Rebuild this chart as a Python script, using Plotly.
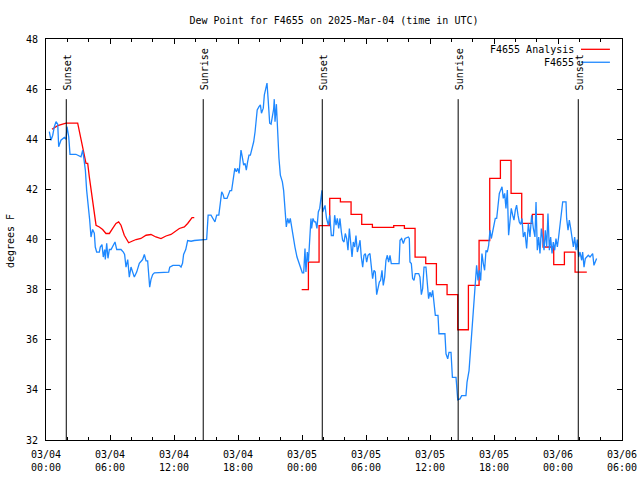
import pandas as pd
import plotly.graph_objects as go

BASE = pd.Timestamp("2025-03-04 00:00")

# Observations (hours after 03/04 00:00 UTC, dew point F)
obs_hours = [0.31, 0.47, 0.63, 0.78, 0.94, 1.1, 1.19, 1.4, 1.72, 1.88, 1.97, 2.13, 2.25, 2.8, 3.28, 3.44, 3.53,
             3.69, 3.81, 3.97, 4.09, 4.22, 4.37, 4.53, 4.62, 4.75, 5.0, 5.09, 5.25, 5.37, 5.5, 5.56, 5.69, 5.81,
             5.94, 6.1, 6.25, 6.47, 6.63, 7.03, 7.25, 7.37, 7.5, 7.66, 7.81, 7.97, 8.28, 8.5, 8.75, 9.06, 9.22,
             9.38, 9.53, 9.63, 9.72, 9.84, 10.0, 10.16, 10.94, 11.5, 11.6, 11.9, 12.5, 12.66, 12.8, 12.9, 13.1,
             13.28, 13.6, 13.9, 15.06, 15.16, 15.2, 15.47, 15.69, 15.84, 16.0, 16.2, 16.34, 16.47, 16.6, 16.7,
             16.97, 17.1, 17.25, 17.4, 17.56, 17.7, 17.84, 17.97, 18.1, 18.19, 18.28, 18.4, 18.53, 18.66, 18.78,
             18.9, 19.03, 19.16, 19.34, 19.47, 19.6, 19.7, 19.8, 19.97, 20.1, 20.2, 20.37, 20.47, 20.6, 20.72,
             20.84, 20.97, 21.1, 21.2, 21.34, 21.4, 21.47, 21.6, 21.72, 21.84, 21.97, 22.16, 22.28, 22.4, 22.53,
             22.66, 22.78, 22.9, 23.03, 23.22, 23.34, 23.53, 23.72, 23.9, 24.03, 24.16, 24.28, 24.37, 24.5, 24.6,
             24.72, 24.84, 24.9, 25.03, 25.16, 25.28, 25.4, 25.53, 25.66, 25.75, 25.8, 25.87, 25.94, 26.06,
             26.16, 26.3, 26.47, 26.6, 26.75, 26.94, 27.06, 27.19, 27.31, 27.44, 27.56, 27.69, 27.81, 27.94,
             28.06, 28.19, 28.31, 28.44, 28.56, 28.69, 28.81, 28.94, 29.06, 29.19, 29.31, 29.44, 29.56, 29.69,
             29.81, 29.94, 30.06, 30.19, 30.37, 30.5, 30.62, 30.75, 30.87, 31.0, 31.12, 31.25, 31.37, 31.5,
             31.62, 31.75, 31.87, 32.0, 32.12, 32.25, 32.37, 33.1, 33.19, 33.34, 33.5, 33.66, 33.97, 34.06,
             34.12, 34.25, 34.37, 34.5, 34.62, 34.94, 35.06, 35.19, 35.31, 35.44, 35.62, 35.75, 35.87, 36.0,
             36.12, 36.25, 36.37, 36.5, 36.75, 36.84, 37.4, 37.5, 37.66, 37.78, 37.97, 38.1, 38.44, 38.53, 38.6,
             38.81, 38.97, 39.37, 39.47, 39.66, 39.75, 39.87, 40.0, 40.12, 40.25, 40.37, 40.5, 40.62, 40.75,
             40.87, 41.0, 41.12, 41.25, 41.37, 41.5, 41.62, 41.75, 41.87, 42.0, 42.12, 42.25, 42.37, 42.5,
             42.62, 42.75, 42.87, 43.0, 43.12, 43.25, 43.37, 43.5, 43.62, 43.75, 43.87, 44.0, 44.12, 44.25,
             44.37, 44.5, 44.62, 44.75, 44.9, 45.06, 45.22, 45.37, 45.53, 45.69, 45.84, 45.94, 46.06, 46.19,
             46.31, 46.44, 46.56, 46.69, 46.81, 46.94, 47.06, 47.19, 47.31, 47.44, 47.56, 47.69, 47.81, 47.94,
             48.06, 48.19, 48.31, 48.44, 48.75, 48.81, 48.94, 49.06, 49.19, 49.31, 49.44, 49.56, 49.69, 49.81,
             49.94, 50.06, 50.22, 50.31, 50.44, 50.56, 50.69, 50.84, 51.0, 51.16, 51.25, 51.37, 51.5, 51.62]
obs_values = [44.3, 43.96, 44.16, 44.5, 44.7, 44.6, 43.7, 43.96, 44.07, 44.0, 44.5, 44.1, 43.4, 43.4, 43.3, 43.56, 43.3,
              42.77, 41.97, 41.4, 40.8, 40.1, 40.4, 40.25, 39.7, 39.5, 39.5, 39.7, 39.8, 39.3, 39.6, 39.2, 39.85, 39.25,
              39.6, 39.6, 39.7, 39.9, 39.6, 39.6, 39.5, 39.4, 38.9, 39.2, 38.5, 38.9, 38.5, 38.7, 39.05, 39.2, 39.4,
              39.15, 39.15, 38.55, 38.1, 38.4, 38.6, 38.67, 38.7, 38.7, 38.9, 38.97, 38.97, 38.9, 39.05, 39.4, 39.6,
              39.96, 39.93, 39.96, 40.0, 40.5, 40.97, 40.97, 40.78, 40.7, 40.97, 40.97, 41.44, 41.9, 41.8, 41.64,
              41.64, 41.8, 41.95, 41.95, 42.44, 42.84, 42.7, 42.84, 42.64, 43.37, 43.57, 43.3, 42.97, 43.04, 42.77,
              43.1, 43.37, 43.37, 43.7, 43.9, 44.3, 44.84, 45.17, 45.3, 45.37, 45.04, 45.24, 45.77, 46.04, 46.24,
              45.5, 44.64, 44.6, 44.8, 45.2, 45.6, 44.7, 45.4, 44.04, 43.24, 42.57, 42.3, 41.95, 41.37, 40.5,
              40.84, 40.64, 40.84, 40.44, 40.04, 39.7, 39.3, 39.04, 38.84, 38.67, 38.67, 39.64, 38.7, 39.5, 39.1,
              39.9, 40.84, 40.44, 40.84, 40.7, 40.7, 40.44, 41.1, 41.24, 41.7, 41.9, 41.96, 41.1, 41.3,
              41.36, 40.84, 40.57, 40.97, 40.16, 40.16, 40.97, 40.57, 40.84, 40.44, 40.84, 40.3, 39.97, 39.9,
              40.24, 40.04, 39.57, 40.44, 39.77, 39.3, 39.9, 39.7, 40.16, 39.5, 39.7, 39.97, 39.3, 38.9,
              39.37, 39.44, 39.1, 39.37, 39.44, 38.84, 38.44, 38.77, 38.7, 37.8, 38.1, 38.3, 38.37, 38.77,
              38.17, 38.5, 39.17, 39.37, 39.1, 39.37, 39.04, 39.04, 39.97, 40.04, 39.84, 40.04, 40.1, 40.04,
              39.1, 39.04, 38.44, 38.37, 38.64, 38.64, 38.5, 37.8, 38.04, 38.9, 38.9, 38.3, 37.64, 37.9,
              37.7, 37.97, 37.44, 36.97, 36.97, 36.24, 36.24, 35.44, 35.24, 35.5, 35.5, 34.5, 34.5, 34.04, 33.6,
              33.64, 33.77, 33.77, 34.3, 34.77, 35.3, 35.84, 36.64, 37.3, 38.24, 38.97, 38.37, 38.77, 38.37,
              39.44, 39.04, 38.77, 39.57, 39.5, 39.77, 40.37, 40.04, 40.3, 40.5, 40.84, 40.84, 41.37, 41.84,
              41.97, 42.1, 41.64, 41.84, 41.24, 41.97, 40.17, 40.9, 41.24, 40.97, 40.77, 41.17, 41.37, 40.97,
              40.7, 40.6, 40.84, 40.1, 40.3, 39.64, 40.64, 40.1, 40.97, 40.44, 40.1, 41.5, 39.57, 40.1,
              39.44, 40.44, 40.1, 39.57, 40.37, 39.7, 41.04, 39.57, 40.1, 39.44, 39.9, 39.57, 40.04, 39.7,
              40.1, 40.64, 40.97, 41.5, 41.5, 40.84, 40.37, 40.77, 40.44, 40.1, 39.7, 40.1, 39.57, 40.0,
              39.3, 39.5, 39.17, 39.5, 38.9, 39.24, 39.3, 39.37, 39.3, 39.37, 39.44, 38.97, 39.1, 39.24]

# Analysis, first part (continuous)
ana1_hours = [0.56, 1.1, 1.56, 1.88, 2.97, 3.12, 3.28, 3.44, 3.59, 3.75, 3.91, 4.06, 4.22, 4.37, 4.53, 4.69,
              5.0, 5.31, 5.62, 5.94, 6.25, 6.56, 6.81, 7.03, 7.34, 7.75, 8.06, 8.44, 8.9, 9.38, 9.84, 10.3,
              10.78, 11.25, 11.72, 12.03, 12.5, 12.97, 13.28, 13.69, 13.9]
ana1_values = [44.4, 44.54, 44.6, 44.64, 44.64, 44.3, 43.96, 43.7, 43.37, 43.04, 43.04, 42.5, 41.97, 41.57, 41.17,
               40.57, 40.5, 40.4, 40.24, 40.24, 40.44, 40.64, 40.7, 40.57, 40.17, 39.87, 39.93, 40.0, 40.04,
               40.17, 40.2, 40.1, 40.04, 40.14, 40.2, 40.3, 40.44, 40.5, 40.64, 40.87, 40.87]

# Analysis, second part (hourly steps)
ana2_hours = [23.97, 24.6, 25.6, 26.6, 27.6, 28.6, 29.6, 30.6, 31.6, 32.6, 33.6, 34.6, 35.6, 36.6, 37.6, 38.6,
              39.6, 40.6, 41.6, 42.6, 43.6, 44.6, 45.6, 46.6, 47.6, 48.6, 49.6, 50.7]
ana2_values = [38.0, 39.1, 40.55, 41.64, 41.5, 41.0, 40.6, 40.48, 40.48, 40.55, 40.44, 39.3, 39.04, 38.2, 37.8,
               36.4, 38.17, 39.96, 42.44, 43.16, 41.84, 40.64, 41.0, 39.7, 39.0, 39.5, 38.7, 38.7]

# Sun events
sun_labels = ["Sunset", "Sunrise", "Sunset", "Sunrise", "Sunset"]
sun_hours = [1.9, 14.74, 25.9, 38.64, 49.9]

tick_hours = [0, 6, 12, 18, 24, 30, 36, 42, 48, 54]
tick_text = ["03/04<br>00:00", "03/04<br>06:00", "03/04<br>12:00", "03/04<br>18:00", "03/05<br>00:00",
             "03/05<br>06:00", "03/05<br>12:00", "03/05<br>18:00", "03/06<br>00:00", "03/06<br>06:00"]

title_text = "Dew Point for F4655 on 2025-Mar-04 (time in UTC)"
legend_names = ["F4655 Analysis", "F4655"]


def to_time(hours):
    return [BASE + pd.Timedelta(hours=h) for h in hours]


RED = "#ff0000"
BLUE = "#1e88ff"
FONT = "DejaVu Sans Mono"

fig = go.Figure()
fig.add_trace(go.Scatter(x=to_time(ana1_hours), y=ana1_values, mode="lines",
                         line=dict(color=RED, width=1.3), name=legend_names[0], showlegend=False))
fig.add_trace(go.Scatter(x=to_time(ana2_hours), y=ana2_values, mode="lines", line_shape="hv",
                         line=dict(color=RED, width=1.3), name=legend_names[0], showlegend=False))
fig.add_trace(go.Scatter(x=to_time(obs_hours), y=obs_values, mode="lines",
                         line=dict(color=BLUE, width=1.3), name=legend_names[1], showlegend=False))

for lab, h in zip(sun_labels, sun_hours):
    t = BASE + pd.Timedelta(hours=h)
    fig.add_shape(type="line", xref="x", yref="y", x0=t, x1=t, y0=45.6, y1=32,
                  line=dict(color="black", width=1))
    fig.add_annotation(x=t, y=45.88, xref="x", yref="y", text=lab, textangle=-90, showarrow=False,
                       xanchor="center", yanchor="bottom", xshift=1,
                       font=dict(family=FONT, size=10, color="black"))

# legend (gnuplot style: text left, sample right)
fig.add_annotation(xref="paper", yref="paper", x=0.92, y=0.9726, text=legend_names[0], showarrow=False,
                   xanchor="right", yanchor="middle", font=dict(family=FONT, size=10, color="black"))
fig.add_annotation(xref="paper", yref="paper", x=0.92, y=0.941, text=legend_names[1], showarrow=False,
                   xanchor="right", yanchor="middle", font=dict(family=FONT, size=10, color="black"))
fig.add_shape(type="line", xref="paper", yref="paper", x0=0.9288, x1=0.979, y0=0.9743, y1=0.9743,
              line=dict(color=RED, width=1.3))
fig.add_shape(type="line", xref="paper", yref="paper", x0=0.9288, x1=0.979, y0=0.942, y1=0.942,
              line=dict(color=BLUE, width=1.3))

fig.add_annotation(xref="paper", yref="paper", x=-0.0625, y=0.496, text="degrees F", textangle=-90,
                   showarrow=False, xanchor="center", yanchor="middle",
                   font=dict(family=FONT, size=10, color="black"))

fig.update_layout(
    width=640, height=480,
    margin=dict(l=46, r=18, t=39, b=40, autoexpand=False),
    paper_bgcolor="white", plot_bgcolor="white",
    font=dict(family=FONT, size=10, color="black"),
    title=dict(text=title_text, x=0.5, xref="paper", y=1 - 20 / 480, yref="container",
               xanchor="center", yanchor="middle", font=dict(family=FONT, size=10, color="black")),
    showlegend=False,
)
fig.update_xaxes(
    type="date", automargin=False,
    range=[BASE, BASE + pd.Timedelta(hours=54)],
    tickvals=to_time(tick_hours), ticktext=tick_text,
    ticks="inside", ticklen=5, tickcolor="black", tickwidth=1,
    showline=True, linecolor="black", linewidth=1, mirror="ticks",
    showgrid=False, zeroline=False, ticklabelstandoff=5,
    minor=dict(ticks="inside", ticklen=3, tickcolor="black", dtick=2 * 3600 * 1000, tick0=BASE, showgrid=False),
    tickfont=dict(family=FONT, size=10, color="black"),
)
fig.update_yaxes(
    automargin=False,
    range=[32, 48], dtick=2, tick0=32,
    ticks="inside", ticklen=5, tickcolor="black", tickwidth=1,
    showline=True, linecolor="black", linewidth=1, mirror="ticks",
    showgrid=False, zeroline=False, ticklabelstandoff=5,
    tickfont=dict(family=FONT, size=10, color="black"),
)

fig.write_html("out.html", config={"displayModeBar": False},
               post_script="document.body.style.margin='0';document.body.style.overflow='hidden';")
